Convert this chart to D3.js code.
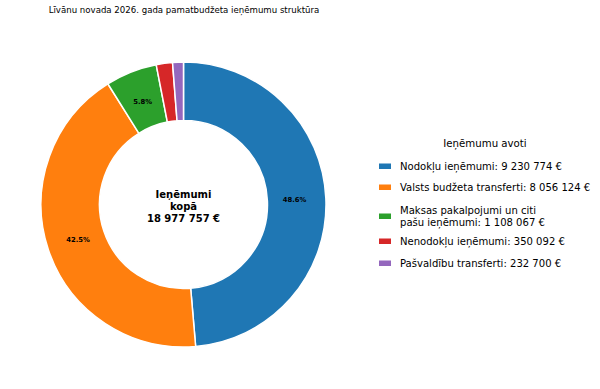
<!DOCTYPE html>
<html><head><meta charset="utf-8">
<script src="https://cdn.jsdelivr.net/npm/d3@7"></script>
<style>body{margin:0;background:#fff}svg{display:block;font-family:"DejaVu Sans",sans-serif}</style>
</head><body><svg id="c" width="600" height="389"></svg>
<script>
const categories = ["Nodokļu ieņēmumi", "Valsts budžeta transferti", "Maksas pakalpojumi un citi\npašu ieņēmumi", "Nenodokļu ieņēmumi", "Pašvaldību transferti"];
const values = [9230774, 8056124, 1108067, 350092, 232700];
const colors = ["#1f77b4", "#ff7f0e", "#2ca02c", "#d62728", "#9467bd"];
const title = "Līvānu novada 2026. gada pamatbudžeta ieņēmumu struktūra";
const legendTitle = "Ieņēmumu avoti";
const totalLabel = ["Ieņēmumi", "kopā"];

const fmt = v => String(v).replace(/\B(?=(\d{3})+(?!\d))/g, " ") + " €";
const total = d3.sum(values);
const svg = d3.select("#c");
const cx = 183.5, cy = 204.5, R = 142.5, r = 84;

svg.append("text").attr("x", 184).attr("y", 13).attr("text-anchor", "middle")
  .attr("font-size", 8.6).text(title);

const pie = d3.pie().sort(null).value(d => d);
const arcs = pie(values);
const arc = d3.arc().innerRadius(r).outerRadius(R);
const g = svg.append("g").attr("transform", `translate(${cx},${cy})`);
g.selectAll("path").data(arcs).join("path")
  .attr("d", arc).attr("fill", (d, i) => colors[i])
  .attr("stroke", "#fff").attr("stroke-width", 1.5).attr("stroke-linejoin", "round");

const lr = 0.78 * R;
g.selectAll("text.p").data(arcs).join("text").attr("class", "p")
  .filter(d => d.value / total > 0.04)
  .attr("x", d => lr * Math.sin((d.startAngle + d.endAngle) / 2))
  .attr("y", d => -lr * Math.cos((d.startAngle + d.endAngle) / 2))
  .attr("dy", "0.35em").attr("text-anchor", "middle")
  .attr("font-size", 6.8).attr("font-weight", "bold")
  .text(d => (d.value / total * 100).toFixed(1) + "%");

const ct = g.append("text").attr("text-anchor", "middle").attr("font-size", 10).attr("font-weight", "bold");
[totalLabel[0], totalLabel[1], fmt(total)].forEach((t, i) => {
  ct.append("tspan").attr("x", 0).attr("y", -10 + i * 12).attr("dy", "0.35em").text(t);
});

const lg = svg.append("g");
lg.append("text").attr("x", 485).attr("y", 147).attr("text-anchor", "middle").attr("font-size", 10.2).text(legendTitle);
const rowY = [166, 187, 216, 241, 263];
categories.forEach((c, i) => {
  lg.append("rect").attr("x", 379).attr("y", rowY[i] - 2.5).attr("width", 12).attr("height", 5.5).attr("fill", colors[i]);
  const lines = (c + ": " + fmt(values[i])).split("\n");
  const t = lg.append("text").attr("font-size", 10.05);
  lines.forEach((l, j) => {
    t.append("tspan").attr("x", 400).attr("y", rowY[i] + (j - (lines.length - 1) / 2) * 12).attr("dy", "0.35em").text(l);
  });
});
</script></body></html>
